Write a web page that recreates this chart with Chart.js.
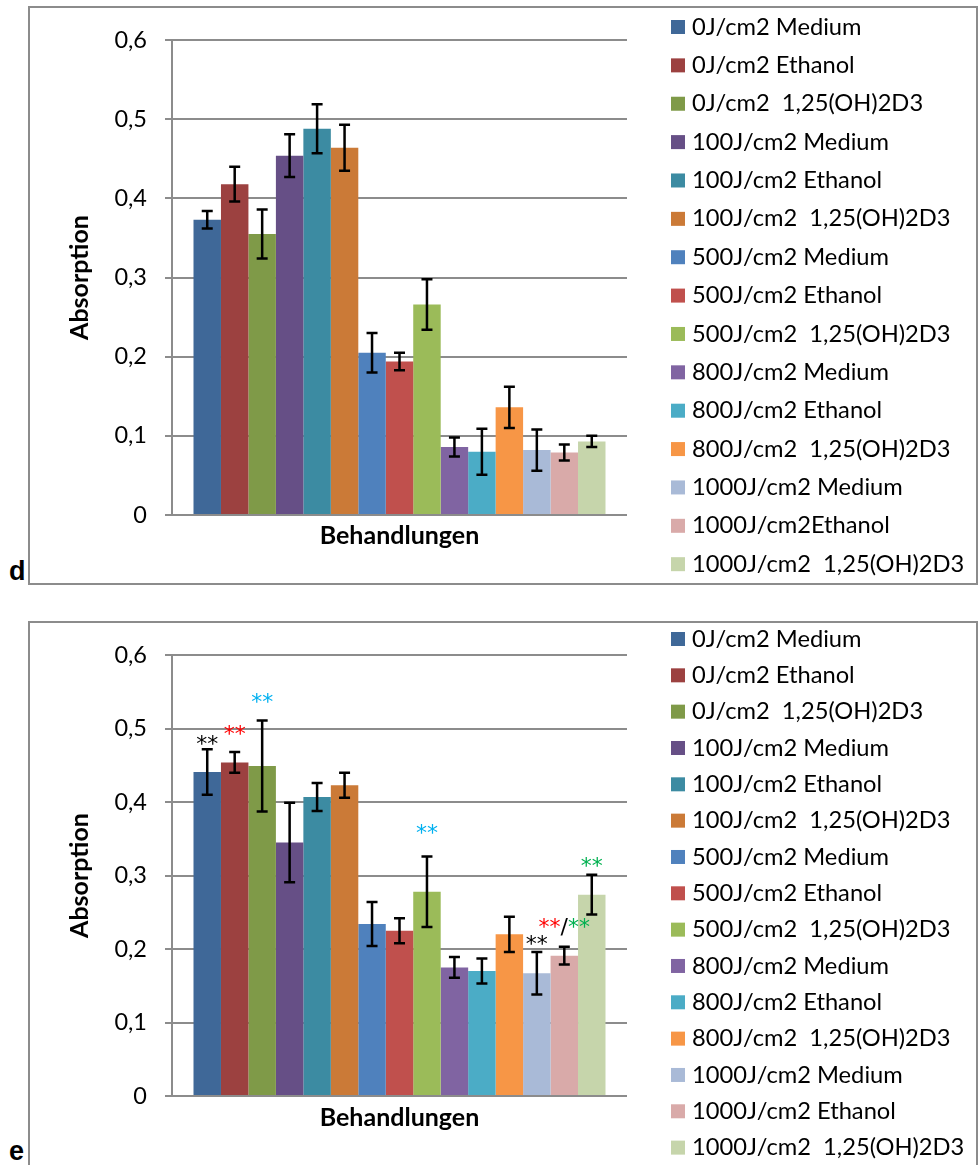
<!DOCTYPE html>
<html>
<head>
<meta charset="utf-8">
<script src="https://cdn.jsdelivr.net/npm/chart.js@4"></script>
<style>
  html, body { margin: 0; padding: 0; background: #fff; overflow: hidden; }
  body { width: 978px; height: 1165px; position: relative; }
  .frame { position: absolute; left: 28px; border: 2px solid #8c8c8c; }
  #frameD { top: 6px; width: 946px; height: 575px; }
  #frameE { top: 621px; width: 946px; height: 560px; }
  .frame canvas { display: block; }
  .tag { position: absolute; left: 9px; font: bold 27px "Liberation Sans", Arial, sans-serif; color: #000; }
</style>
</head>
<body>
<div class="tag" style="top:556px">d</div>
<div class="tag" style="top:1136px">e</div>
<div class="frame" id="frameD"><canvas id="chartD" width="946" height="575"></canvas></div>
<div class="frame" id="frameE"><canvas id="chartE" width="946" height="560"></canvas></div>
<script>
// Behandlungsgruppen (Legende)
const labelsD = [
  '0J/cm2 Medium', '0J/cm2 Ethanol', '0J/cm2  1,25(OH)2D3',
  '100J/cm2 Medium', '100J/cm2 Ethanol', '100J/cm2  1,25(OH)2D3',
  '500J/cm2 Medium', '500J/cm2 Ethanol', '500J/cm2  1,25(OH)2D3',
  '800J/cm2 Medium', '800J/cm2 Ethanol', '800J/cm2  1,25(OH)2D3',
  '1000J/cm2 Medium', '1000J/cm2Ethanol', '1000J/cm2  1,25(OH)2D3'
];
const labelsE = [
  '0J/cm2 Medium', '0J/cm2 Ethanol', '0J/cm2  1,25(OH)2D3',
  '100J/cm2 Medium', '100J/cm2 Ethanol', '100J/cm2  1,25(OH)2D3',
  '500J/cm2 Medium', '500J/cm2 Ethanol', '500J/cm2  1,25(OH)2D3',
  '800J/cm2 Medium', '800J/cm2 Ethanol', '800J/cm2  1,25(OH)2D3',
  '1000J/cm2 Medium', '1000J/cm2 Ethanol', '1000J/cm2  1,25(OH)2D3'
];
const seriesColors = [
  '#3f6898', '#9c4140', '#7f9a48', '#664f86', '#3c8ba2', '#cb7a37',
  '#4f81bd', '#c0504d', '#9bbb59', '#8064a2', '#4bacc6', '#f79646',
  '#a9bad7', '#d9aaa9', '#c6d5ab'
];

// Absorption (Mittelwert) und Fehler, Versuch d
const valuesD = [0.373, 0.418, 0.355, 0.454, 0.488, 0.464, 0.205, 0.194, 0.266, 0.086, 0.080, 0.136, 0.082, 0.079, 0.093];
const errorsD = [0.011, 0.022, 0.031, 0.027, 0.031, 0.029, 0.025, 0.011, 0.032, 0.012, 0.029, 0.026, 0.026, 0.010, 0.007];

// Absorption (Mittelwert) und Fehler, Versuch e
const valuesE = [0.441, 0.454, 0.449, 0.345, 0.407, 0.423, 0.234, 0.225, 0.278, 0.175, 0.170, 0.220, 0.167, 0.191, 0.274];
const errorsE = [0.031, 0.014, 0.062, 0.054, 0.019, 0.017, 0.030, 0.017, 0.048, 0.014, 0.017, 0.024, 0.029, 0.012, 0.027];

// Signifikanzsterne in e: Balkenindex, Höhe (Absorption), Textteile
const RED = '#ff0000', CYAN = '#00b0f0', GREEN = '#00b050', BLACK = '#000000';
const starsE = [
  { bar: 0, y: 0.485, parts: [['**', BLACK]] },
  { bar: 1, y: 0.498, parts: [['**', RED]] },
  { bar: 2, y: 0.541, parts: [['**', CYAN]] },
  { bar: 8, y: 0.363, parts: [['**', CYAN]] },
  { bar: 14, y: 0.318, parts: [['**', GREEN]] },
  { bar: 13, y: 0.236, parts: [['**', RED], ['/', BLACK], ['**', GREEN]] },
  { bar: 12, y: 0.212, parts: [['**', BLACK]] }
];

const yTicks = [0, 0.1, 0.2, 0.3, 0.4, 0.5, 0.6];
const FONT = 'Lato, "Open Sans", sans-serif';

Chart.defaults.font.family = FONT;
Chart.defaults.color = '#000';

// Fehlerbalken (±) über jedem Balken
const errorBarPlugin = {
  id: 'errorBars',
  afterDatasetsDraw(chart) {
    const { ctx, scales: { y } } = chart;
    ctx.save();
    ctx.strokeStyle = '#000';
    ctx.lineWidth = 2.5;
    chart.data.datasets.forEach((ds, i) => {
      const bar = chart.getDatasetMeta(i).data[0];
      const v = ds.data[0];
      const top = y.getPixelForValue(v + ds.err);
      const bot = y.getPixelForValue(v - ds.err);
      const cap = 5.5;
      ctx.beginPath();
      ctx.moveTo(bar.x, top); ctx.lineTo(bar.x, bot);
      ctx.moveTo(bar.x - cap, top); ctx.lineTo(bar.x + cap, top);
      ctx.moveTo(bar.x - cap, bot); ctx.lineTo(bar.x + cap, bot);
      ctx.stroke();
    });
    ctx.restore();
  }
};

// Sterne (mehrfarbig) über den Balken
const starsPlugin = {
  id: 'stars',
  afterDraw(chart, args, opts) {
    if (!opts.items) return;
    const { ctx, scales: { y } } = chart;
    ctx.save();
    ctx.font = opts.font;
    ctx.textBaseline = 'alphabetic';
    const m = ctx.measureText('**');
    const shift = (m.actualBoundingBoxAscent - m.actualBoundingBoxDescent) / 2;
    opts.items.forEach(item => {
      const bar = chart.getDatasetMeta(item.bar).data[0];
      const total = item.parts.reduce((s, p) => s + ctx.measureText(p[0]).width, 0);
      let x = bar.x - total / 2;
      const base = y.getPixelForValue(item.y) + shift;
      item.parts.forEach(([t, c]) => {
        ctx.fillStyle = c;
        ctx.textAlign = 'left';
        ctx.fillText(t, x, base);
        x += ctx.measureText(t).width;
      });
    });
    ctx.restore();
  }
};

// Legende rechts neben dem Diagramm
const sideLegendPlugin = {
  id: 'sideLegend',
  afterDraw(chart, args, opts) {
    const { ctx } = chart;
    ctx.save();
    ctx.font = opts.font;
    ctx.textBaseline = 'middle';
    ctx.textAlign = 'left';
    chart.data.datasets.forEach((ds, i) => {
      const cy = opts.top + i * opts.step;
      ctx.fillStyle = ds.backgroundColor;
      ctx.fillRect(opts.boxX, cy - opts.box / 2, opts.box, opts.box);
      ctx.fillStyle = '#000';
      ctx.fillText(ds.label, opts.textX, cy);
    });
    ctx.restore();
  }
};

function makeChart(id, labels, values, errors, geo, stars) {
  return new Chart(document.getElementById(id), {
    type: 'bar',
    data: {
      labels: [''],
      datasets: labels.map((lab, i) => ({
        label: lab,
        data: [values[i]],
        err: errors[i],
        backgroundColor: seriesColors[i],
        borderWidth: 0
      }))
    },
    options: {
      responsive: false,
      animation: false,
      categoryPercentage: 0.9055,
      barPercentage: 1.0,
      layout: { padding: { left: 0, top: geo.top, right: geo.right, bottom: 0 } },
      plugins: {
        legend: { display: false },
        tooltip: { enabled: false },
        sideLegend: { font: '23.7px ' + FONT, boxX: 641, textX: 662, box: 14, top: geo.legendTop, step: geo.legendStep },
        stars: { font: '22px "DejaVu Sans", sans-serif', items: stars }
      },
      scales: {
        x: {
          grid: { display: false },
          border: { display: false },
          ticks: { display: false },
          title: {
            display: true, text: 'Behandlungen', color: '#000',
            font: { size: 25, weight: 'bold' },
            padding: { top: 0, bottom: geo.titleBottom }
          },
          afterFit: s => { s.height = geo.xHeight; }
        },
        y: {
          min: 0, max: 0.6,
          afterBuildTicks: s => { s.ticks = yTicks.map(v => ({ value: v })); },
          ticks: {
            padding: 18, color: '#000', font: { size: 23.5 },
            callback: v => v === 0 ? '0' : v.toFixed(1).replace('.', ',')
          },
          grid: { color: '#8c8c8c', lineWidth: 2, tickLength: 7 },
          border: { color: '#8c8c8c', width: 2 },
          title: {
            display: true, text: 'Absorption', color: '#000',
            font: { size: 25, weight: 'bold' },
            padding: { top: 35, bottom: 0 }
          },
          afterFit: s => { s.width = 142; }
        }
      }
    },
    plugins: [errorBarPlugin, starsPlugin, sideLegendPlugin]
  });
}

makeChart('chartD', labelsD, valuesD, errorsD,
  { top: 30, right: 349, xHeight: 68, titleBottom: 32, legendTop: 19, legendStep: 38.37 }, null);
makeChart('chartE', labelsE, valuesE, errorsE,
  { top: 28, right: 349, xHeight: 87, titleBottom: 50, legendTop: 16, legendStep: 36.33 }, starsE);
</script>
</body>
</html>
